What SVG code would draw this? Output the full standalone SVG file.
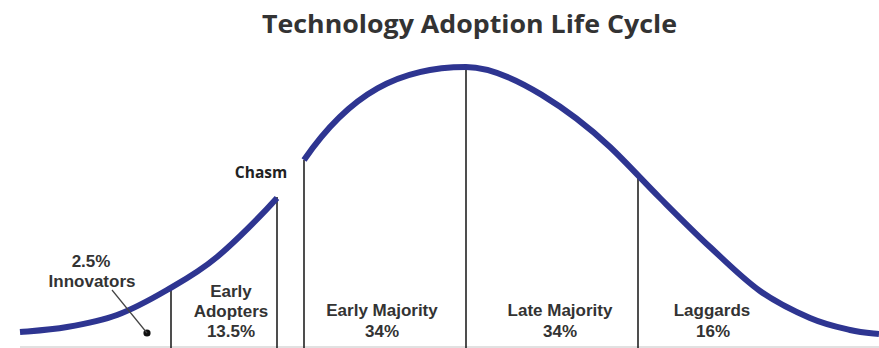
<svg xmlns="http://www.w3.org/2000/svg" width="879" height="348" viewBox="0 0 879 348">
<style>
.curve{fill:none;stroke:#2e3591;stroke-width:6;stroke-linecap:butt;stroke-linejoin:round}
.div{stroke:#222;stroke-width:1.6;fill:none}
.base{stroke:#c4c4c4;stroke-width:1.2}
.lbl{font-family:"Liberation Sans",Arial,sans-serif;font-weight:bold;font-size:17px;fill:#333;text-anchor:middle}
.title{font-family:"Open Sans","Liberation Sans",sans-serif;font-weight:bold;font-size:25px;fill:#333;text-anchor:middle}
.chasm{font-family:"Open Sans","Liberation Sans",sans-serif;font-weight:bold;font-size:15.5px;fill:#222;text-anchor:middle}
</style>
<rect width="879" height="348" fill="#fff"/>
<g id="title"><text class="title" x="469.5" y="33" textLength="415" lengthAdjust="spacingAndGlyphs">Technology Adoption Life Cycle</text></g>
<line class="base" x1="20" y1="347" x2="879" y2="347"/>
<g id="dividers">
<line class="div" x1="171" y1="287" x2="171" y2="348"/>
<line class="div" x1="277" y1="197" x2="277" y2="348"/>
<line class="div" x1="304" y1="160" x2="304" y2="348"/>
<line class="div" x1="466" y1="67" x2="466" y2="348"/>
<line class="div" x1="638" y1="176" x2="638" y2="348"/>
</g>
<g id="curve-left">
<path class="curve" d="M20,332 C35.7,330.7 50.8,329.8 67,327 C83.2,324.2 100.3,321.2 117,315 C133.7,308.8 150.3,299.7 167,290 C183.7,280.3 198.7,272.3 217,257 C235.3,241.7 262.5,214.2 277,198"/>
</g>
<g id="curve-right">
<path class="curve" d="M304,160 C350,93 400,67 466,67 C510,67 575,114 610,147 C626.7,162.8 643.3,181.3 660,198 C676.7,214.7 693.3,231.5 710,247 C726.7,262.5 743.3,279.2 760,291 C776.7,302.8 795,311.5 810,318 C825,324.5 838.5,327.3 850,330 C861.5,332.7 869,333 879,334"/>
</g>
<g id="chasm"><text class="chasm" x="261" y="178">Chasm</text></g>
<g id="innovators">
<text class="lbl" x="91" y="267">2.5%</text>
<text class="lbl" x="92" y="287">Innovators</text>
<circle cx="147" cy="333" r="3.6" fill="#111"/>
</g>
<g id="connectors">
<line x1="112" y1="290" x2="147" y2="333" stroke="#444" stroke-width="1.2"/>
</g>
<g id="early-adopters">
<text class="lbl" x="231" y="297">Early</text>
<text class="lbl" x="231" y="317">Adopters</text>
<text class="lbl" x="231" y="337">13.5%</text>
</g>
<g id="early-majority">
<text class="lbl" x="382" y="316">Early Majority</text>
<text class="lbl" x="382" y="337">34%</text>
</g>
<g id="late-majority">
<text class="lbl" x="560" y="316">Late Majority</text>
<text class="lbl" x="560" y="337">34%</text>
</g>
<g id="laggards">
<text class="lbl" x="712" y="316">Laggards</text>
<text class="lbl" x="713" y="337">16%</text>
</g>
</svg>
